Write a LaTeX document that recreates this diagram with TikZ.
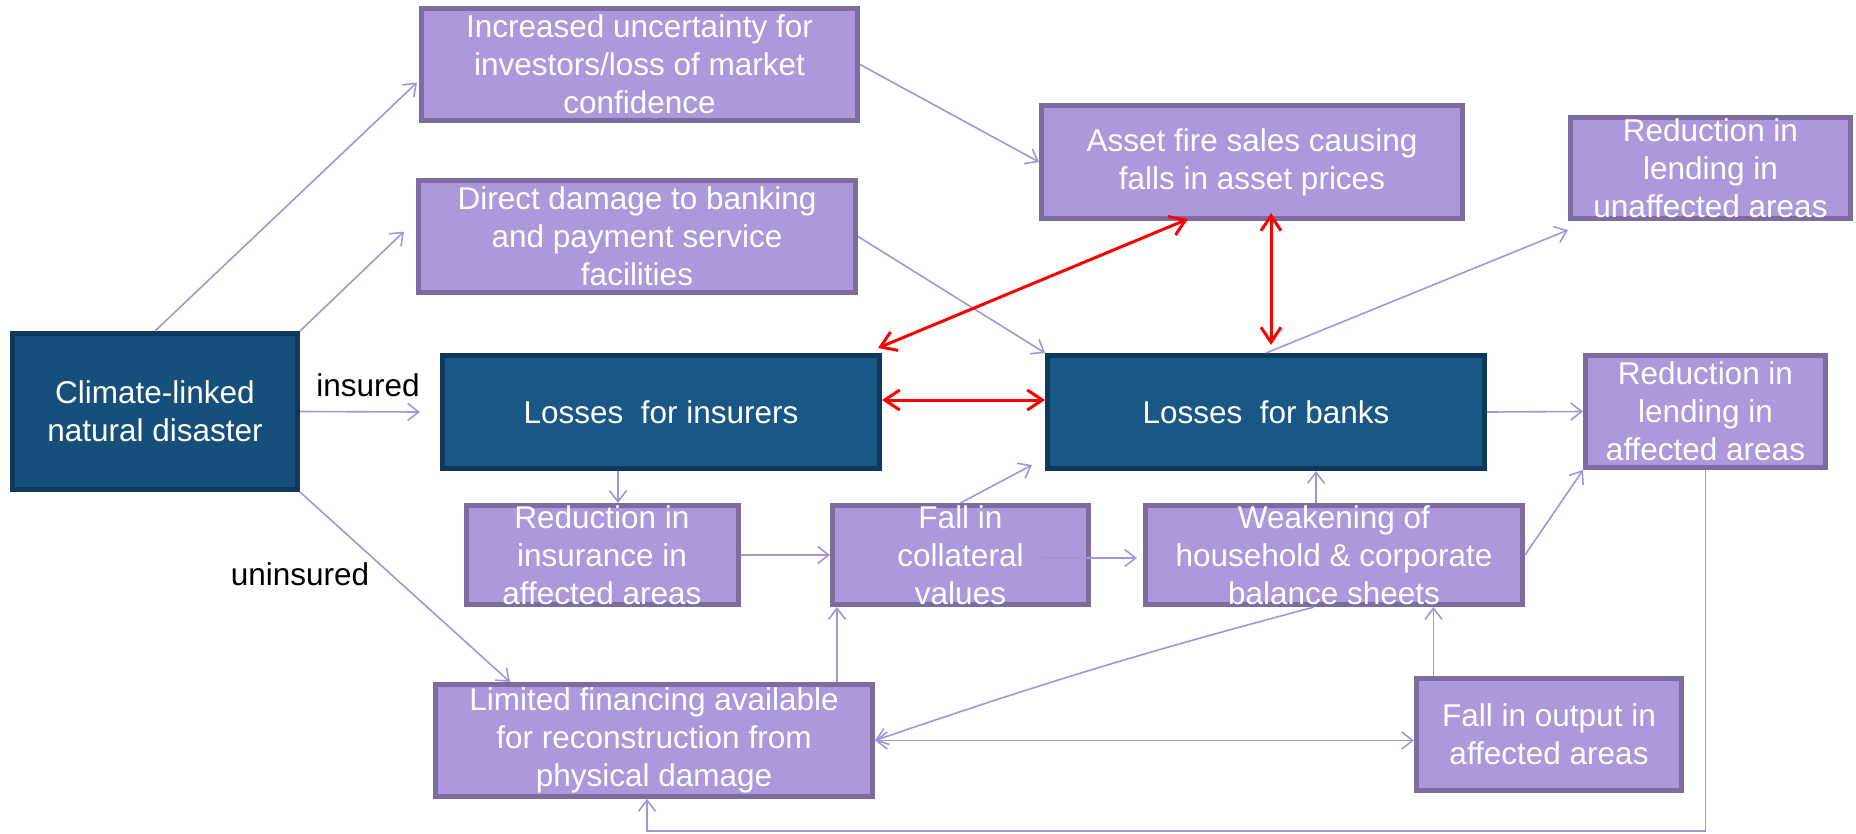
\documentclass[tikz,border=0pt]{standalone}
\usepackage{fontspec}
\setmainfont{Liberation Sans}
\usetikzlibrary{arrows.meta,calc}
\definecolor{lav}{RGB}{172,152,218}
\definecolor{lavedge}{RGB}{124,108,160}
\definecolor{arr}{RGB}{164,148,218}
\definecolor{navy}{RGB}{25,87,135}
\definecolor{navyc}{RGB}{21,79,122}
\definecolor{navyedge}{RGB}{13,57,92}
\begin{document}
\begin{tikzpicture}[x=1pt,y=-1pt,
  txt/.style={font={\fontsize{31.5}{38}\selectfont}, align=center, inner sep=0pt},
  pbox/.style={txt, rectangle, fill=lav, draw=lavedge, line width=5pt, text=white},
  dbox/.style={txt, rectangle, fill=navy, draw=navyedge, line width=5pt, text=white},
  conn/.style={draw=arr, line width=1.6pt, -{Straight Barb[length=11pt,width=17pt]}},
  conntwo/.style={draw=arr, line width=1.6pt, {Straight Barb[length=11pt,width=17pt]}-{Straight Barb[length=11pt,width=17pt]}},
  redarr/.style={draw=red, line width=3pt, {Straight Barb[length=15pt,width=20pt]}-{Straight Barb[length=15pt,width=20pt]}},
  lbl/.style={txt, text=black}
]
\useasboundingbox (0,0) rectangle (1856,833);

% boxes
\node[pbox, minimum width=436pt, minimum height=112pt] (unc) at (639.5,64.5) {Increased uncertainty for\\investors/loss of market\\confidence};
\node[pbox, minimum width=437pt, minimum height=112pt] (dmg) at (637,236.5) {Direct damage to banking\\and payment service\\facilities};
\node[dbox, fill=navyc, minimum width=285pt, minimum height=156pt] (climate) at (155,411.5) {Climate-linked\\natural disaster};
\node[dbox, minimum width=437pt, minimum height=113pt] (ins) at (661,412) {Losses~~for insurers};
\node[pbox, minimum width=421pt, minimum height=113pt] (fire) at (1252,162) {Asset fire sales causing\\falls in asset prices};
\node[pbox, minimum width=280pt, minimum height=101pt] (unaff) at (1710.5,168) {Reduction in\\lending in\\unaffected areas};
\node[dbox, minimum width=437pt, minimum height=113pt] (banks) at (1266,412) {Losses~~for banks};
\node[pbox, minimum width=240pt, minimum height=112pt] (aff) at (1705.5,411.5) {Reduction in\\lending in\\affected areas};
\node[pbox, minimum width=272pt, minimum height=99pt] (redins) at (602,555) {Reduction in\\insurance in\\affected areas};
\node[pbox, minimum width=256pt, minimum height=99pt] (coll) at (960.5,555) {Fall in\\collateral\\values};
\node[pbox, minimum width=377pt, minimum height=99pt] (weak) at (1334,555) {Weakening of\\household \& corporate\\balance sheets};
\node[pbox, minimum width=437pt, minimum height=112pt] (limfin) at (654,740.5) {Limited financing available\\for reconstruction from\\physical damage};
\node[pbox, minimum width=265pt, minimum height=112pt] (output) at (1549,734.5) {Fall in output in\\affected areas};

% labels
\node[lbl] (lins) at (368,385) {insured};
\node[lbl] (lunins) at (300,574) {uninsured};

% purple connectors
\draw[conn] (climate.north) -- ($(unc.west)+(-2,18)$);
\draw[conn] (climate.north east) -- ($(dmg.west)+(-12,-5)$);
\draw[conn] (climate.east) -- ($(ins.west)+(-20,0)$);
\draw[conn] (climate.south east) -- ($(limfin.north west)+(77,0)$);
\draw[conn] (unc.east) -- (fire.west);
\draw[conn] (dmg.east) -- (banks.north west);
\draw[conn] (banks.north) -- ($(unaff.south west)+(0,9)$);
\draw[conn] (banks.east) -- (aff.west);
\draw[conn] ($(ins.south)+(-43,0)$) -- ($(redins.north)+(16,0)$);
\draw[conn] (redins.east) -- (coll.west);
\draw[conn] (coll.north) -- ($(banks.south west)+(-13,-6)$);
\draw[conn] ($(coll.east)+(-50,3)$) -- ($(weak.west)+(-6,3)$);
\draw[conn] ($(weak.north)+(-18,0)$) -- ($(banks.south)+(50,0)$);
\draw[conn] (weak.east) -- (aff.south west);
\draw[conn] ($(weak.south)+(-20,0)$) to[bend right=2] (limfin.east);
\draw[conntwo] (limfin.east) -- (limfin.east -| output.west);
\coordinate (collin) at ($(coll.south west)+(7,0)$);
\draw[conn] (collin |- limfin.north) -- (collin);
\coordinate (weakin) at ($(output.north west)+(19.5,0)$);
\draw[conn] (weakin) -- (weakin |- weak.south);
\coordinate (loopc) at ($(limfin.south)+(-7,0)$);
\draw[conn] (aff.south) -- (aff.south |- 0,831) -| (loopc);

% red connectors
\draw[redarr] ($(ins.north east)+(-4,-5)$) -- ($(fire.south)+(-64,-2)$);
\draw[redarr] ($(ins.east)+(0,-12)$) -- ($(banks.west)+(0,-12)$);
\draw[redarr] ($(fire.south)+(19,-8)$) -- ($(banks.north)+(5,-8)$);
\end{tikzpicture}
\end{document}
